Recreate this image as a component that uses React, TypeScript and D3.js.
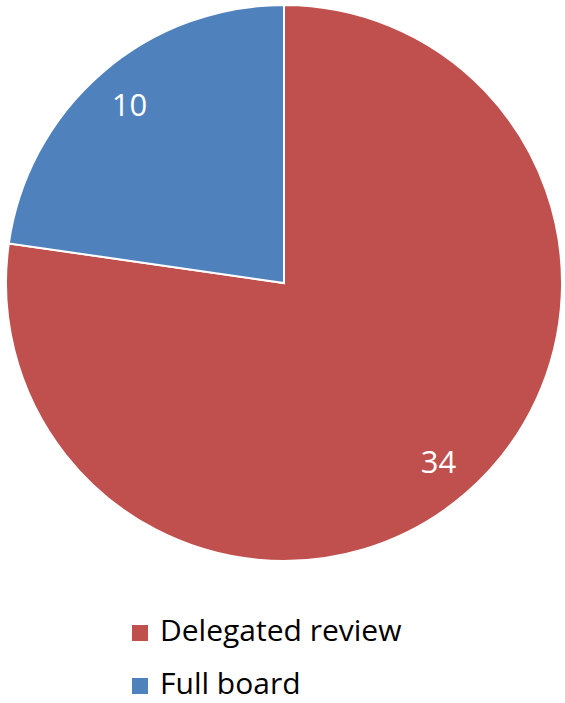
import { useEffect, useRef } from 'react';
import * as d3 from 'd3';

const categories = ['Delegated review', 'Full board'];
const values = [34, 10];
const colors = ['#C0504D', '#4F81BD'];

const WIDTH = 565;
const HEIGHT = 703;

export default function App() {
  const ref = useRef<SVGSVGElement | null>(null);

  useEffect(() => {
    if (!ref.current) return;
    const svg = d3.select(ref.current);
    svg.selectAll('*').remove();

    const cx = 284;
    const cy = 283;
    const radius = 278;
    const font = '"Open Sans", "Noto Sans", sans-serif';

    svg.append('rect').attr('width', WIDTH).attr('height', HEIGHT).attr('fill', '#fff');

    const data = categories.map((c, i) => ({ name: c, value: values[i], color: colors[i] }));
    const pie = d3
      .pie<{ name: string; value: number; color: string }>()
      .sort(null)
      .value(d => d.value);
    const arcs = pie(data);

    const arc = d3
      .arc<d3.PieArcDatum<{ name: string; value: number; color: string }>>()
      .innerRadius(0)
      .outerRadius(radius);
    const labelArc = d3
      .arc<d3.PieArcDatum<{ name: string; value: number; color: string }>>()
      .innerRadius(236)
      .outerRadius(236);

    const g = svg.append('g').attr('transform', `translate(${cx},${cy})`);

    g.selectAll('path')
      .data(arcs)
      .join('path')
      .attr('d', arc)
      .attr('fill', d => d.data.color)
      .attr('stroke', '#fff')
      .attr('stroke-width', 2);

    g.selectAll('text')
      .data(arcs)
      .join('text')
      .attr('transform', d => `translate(${labelArc.centroid(d)})`)
      .attr('text-anchor', 'middle')
      .attr('dy', '0.36em')
      .attr('font-family', font)
      .attr('font-size', 31)
      .attr('fill', '#fff')
      .text(d => d.data.value);

    // legend
    const legendY = d3.scalePoint<string>().domain(categories).range([622, 675]);
    const legend = svg
      .append('g')
      .selectAll('g')
      .data(data)
      .join('g')
      .attr('transform', d => `translate(132,${legendY(d.name)})`);

    legend
      .append('rect')
      .attr('x', 0)
      .attr('y', 3)
      .attr('width', 16)
      .attr('height', 16)
      .attr('fill', d => d.color);

    legend
      .append('text')
      .attr('x', 28)
      .attr('y', 19)
      .attr('font-family', font)
      .attr('font-size', 30)
      .attr('fill', '#000')
      .text(d => d.name);
  }, []);

  return (
    <svg
      ref={ref}
      width={WIDTH}
      height={HEIGHT}
      style={{ position: 'absolute', left: 0, top: 0 }}
    />
  );
}
